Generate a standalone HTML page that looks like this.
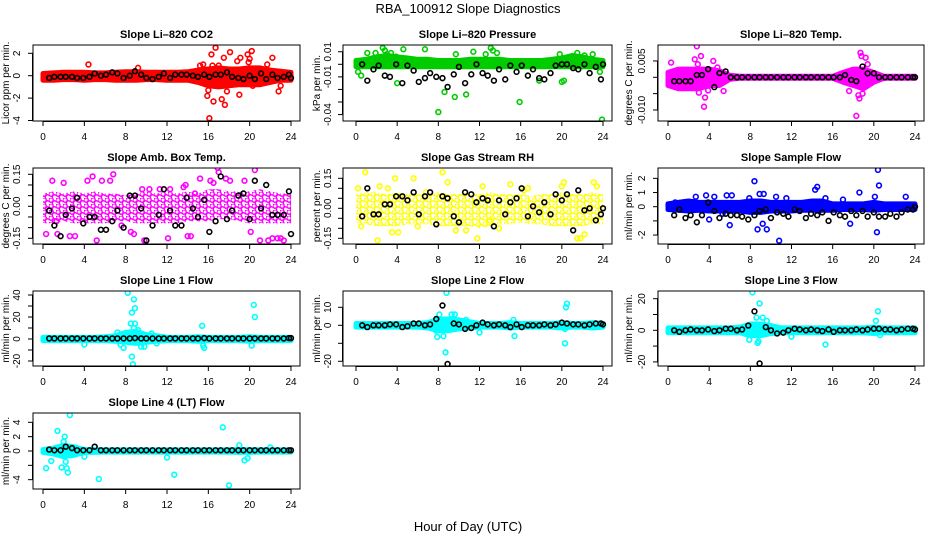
<!DOCTYPE html>
<html><head><meta charset="utf-8"><style>
html,body{margin:0;padding:0;background:#fff}
svg{display:block;font-family:"Liberation Sans",Arial,sans-serif}
</style></head><body>
<svg id="chart" width="936" height="540" viewBox="0 0 936 540">
<defs>
<pattern id="pat-mag" width="7" height="6" patternUnits="userSpaceOnUse"><circle cx="2" cy="2" r="2.2" fill="none" stroke="#ff00ff" stroke-width="1.5"/><circle cx="5.5" cy="5" r="2.2" fill="none" stroke="#ff00ff" stroke-width="1.5"/></pattern>
<pattern id="pat-yel" width="7" height="6" patternUnits="userSpaceOnUse"><circle cx="2" cy="2" r="2.2" fill="none" stroke="#ffff00" stroke-width="1.5"/><circle cx="5.5" cy="5" r="2.2" fill="none" stroke="#ffff00" stroke-width="1.5"/></pattern>
</defs>
<text x="468" y="13" text-anchor="middle" font-size="13">RBA_100912  Slope Diagnostics</text>
<text x="468" y="531" text-anchor="middle" font-size="13">Hour of Day (UTC)</text>
</svg>
<script>
// ---- shared data ----
const blackHours=[0.6,1.1,1.7,2.2,2.8,3.3,3.9,4.5,5.0,5.6,6.1,6.7,7.2,7.8,8.4,8.9,9.5,10.0,10.6,11.2,11.7,12.3,12.8,13.4,13.9,14.5,15.0,15.6,16.1,16.7,17.2,17.8,18.3,18.9,19.4,20.0,20.5,21.1,21.6,22.2,22.7,23.3,23.8,24.0];
const bandHours=[0,1,2,3,4,5,6,7,8,9,10,11,12,13,14,15,16,17,18,19,20,21,22,23,24];
const xTicks=[0,4,8,12,16,20,24];

// ---- panel 1: CO2 ----
const co2Black=[-0.2,-0.1,-0.1,-0.1,-0.1,-0.2,-0.2,-0.1,0.2,0.0,0.1,0.3,0.2,-0.2,0.0,0.4,0.1,-0.2,-0.3,-0.1,0.2,-0.2,0.1,0.1,0.1,0.0,-0.1,0.1,-0.1,0.1,0.1,0.3,-0.1,-0.2,-0.3,0.0,-0.3,0.2,-0.3,0.1,-0.2,-0.1,0.1,-0.2];
const co2BandHi=[0.2,0.25,0.3,0.3,0.3,0.25,0.25,0.3,0.35,0.35,0.3,0.3,0.3,0.3,0.35,0.5,0.6,0.7,0.6,0.6,0.7,0.7,0.5,0.4,0.3];
const co2BandLo=[-0.4,-0.4,-0.35,-0.35,-0.4,-0.35,-0.35,-0.4,-0.4,-0.4,-0.35,-0.35,-0.4,-0.4,-0.4,-0.6,-0.9,-1.0,-0.9,-0.8,-0.8,-0.8,-0.6,-0.4,-0.4];
const co2OutX=[4.4,9.2,15.2,15.5,16.0,16.1,16.3,16.5,16.7,17.0,17.3,17.5,17.6,17.8,18.1,18.8,19.0,19.1,19.8,20.0,20.2,20.3,21.7,22.2,22.8,23.0,15.9,16.4,17.9,19.9];
const co2OutY=[1.0,0.7,0.9,1.0,-1.3,-3.8,1.9,-2.3,2.5,0.9,-2.1,1.6,-2.6,-1.4,2.1,1.3,-1.7,1.6,1.9,1.5,2.2,-0.9,1.0,1.6,-1.4,-0.9,-1.8,0.9,-0.7,1.2];
const co2Ticks=[-4,-2,0,2];

// ---- panel 2: pressure ----
const presBlack=[0.0,-0.013,-0.004,-0.001,-0.009,-0.01,0.0,-0.015,-0.001,-0.005,-0.014,-0.011,-0.007,-0.01,-0.011,-0.018,-0.008,-0.002,-0.015,-0.008,0.0,-0.007,-0.009,-0.013,-0.004,-0.012,-0.001,-0.006,-0.001,-0.009,-0.004,-0.011,-0.012,-0.007,-0.001,0.0,0.0,-0.003,-0.004,0.0,-0.007,-0.002,-0.012,0.0];
const presBandHi=[0.003,0.004,0.006,0.007,0.006,0.005,0.004,0.004,0.003,0.003,0.003,0.004,0.004,0.004,0.004,0.003,0.003,0.003,0.003,0.004,0.005,0.007,0.006,0.004,0.003];
const presBandLo=[-0.002,-0.002,-0.002,-0.002,-0.002,-0.002,-0.002,-0.002,-0.002,-0.002,-0.002,-0.002,-0.002,-0.002,-0.002,-0.002,-0.002,-0.002,-0.002,-0.002,-0.002,-0.002,-0.002,-0.002,-0.002];
const presOutX=[0.2,0.5,1.1,2.6,2.8,3.0,3.4,4.0,4.6,6.7,8.0,8.6,9.6,10.7,9.7,11.4,12.6,13.1,13.3,13.7,15.9,17.8,20.0,20.2,19.8,21.5,22.2,23.0,23.7,23.9,3.9,1.9];
const presOutY=[-0.006,-0.009,0.009,0.013,0.011,0.008,0.009,-0.015,0.012,0.012,-0.038,-0.022,-0.026,-0.024,0.008,0.010,0.008,0.013,0.011,0.009,-0.030,-0.013,-0.014,-0.013,0.008,0.009,0.007,0.008,-0.006,-0.044,0.006,0.009];
const presTicks=[0.01,0,-0.01,-0.02,-0.03,-0.04];
const presLabels=["0.01","","-0.01","","","-0.04"];

// ---- panel 3: Li-820 temp ----
const tempBlack=[-0.0012,-0.0012,-0.0012,-0.0012,0.0007,0.0007,0.0025,-0.003,0.0013,0.0018,0,0,0,0,0,0,0,0,0,0,0,0,0,0,0,0,0,0,0,0,0.0007,-0.0008,-0.0012,0.0033,0.0012,0.0012,0,0,0,0,0,0,0,0];
const tempBandHi=[0.0015,0.0025,0.0025,0.0025,0.0025,0.002,0.0006,0.0003,0.0003,0.0003,0.0003,0.0003,0.0003,0.0003,0.0003,0.0003,0.0003,0.0015,0.0025,0.0025,0.0015,0.0003,0.0003,0.0003,0.0003];
const tempBandLo=[-0.0025,-0.0035,-0.0035,-0.0035,-0.0025,-0.0025,-0.0006,-0.0003,-0.0003,-0.0003,-0.0003,-0.0003,-0.0003,-0.0003,-0.0003,-0.0003,-0.0003,-0.0015,-0.0025,-0.0035,-0.0015,-0.0003,-0.0003,-0.0003,-0.0003];
const tempOutX=[0.3,2.6,2.8,3.0,3.2,3.5,3.6,2.9,4.4,5.4,18.3,18.5,18.6,18.7,18.8,18.9,17.6,19.2,19.4,3.9,4.8];
const tempOutY=[0.0045,0.0055,0.0095,-0.0047,0.0065,-0.009,-0.0062,0.004,0.005,-0.0042,-0.0118,-0.0055,-0.0065,0.0075,0.0065,-0.005,-0.0042,0.006,0.004,-0.004,0.003];
const tempTicks=[0.005,0,-0.005,-0.010];
const tempLabels=["0.005","","","-0.010"];

// ---- panel 4: amb box temp ----
const ambBlack=[-0.02,-0.09,-0.14,-0.04,-0.01,0.04,-0.08,-0.05,-0.05,-0.11,-0.11,-0.07,-0.02,-0.10,0.05,0.05,-0.01,-0.16,-0.09,-0.04,0.08,-0.02,-0.09,-0.09,0.04,-0.01,-0.05,0.03,-0.12,-0.07,0.14,-0.06,-0.02,0.05,0.06,-0.06,0.12,-0.01,0.10,-0.04,-0.04,-0.04,0.07,-0.13];
const ambBandHi=[0.06,0.07,0.06,0.07,0.06,0.07,0.06,0.06,0.05,0.06,0.07,0.06,0.07,0.06,0.07,0.06,0.08,0.08,0.07,0.07,0.07,0.08,0.07,0.06,0.06];
const ambBandLo=[-0.08,-0.08,-0.07,-0.08,-0.08,-0.08,-0.08,-0.07,-0.07,-0.08,-0.08,-0.08,-0.08,-0.08,-0.07,-0.07,-0.07,-0.06,-0.06,-0.07,-0.08,-0.08,-0.08,-0.08,-0.08];
const ambOutX=[0.3,0.9,1.4,2.0,2.6,3.1,4.3,4.8,5.2,5.5,5.7,6.5,6.8,8.8,9.6,9.8,10.3,11.3,12.1,12.3,13.6,14.0,14.3,14.7,15.2,16.5,16.9,17.0,17.7,18.1,19.5,20.1,20.5,20.7,21.0,21.8,22.2,22.7,23.0,23.3,1.3,7.6,8.5,13.8,16.2];
const ambOutY=[-0.13,0.12,-0.13,0.11,-0.14,-0.14,0.12,0.14,-0.16,-0.22,0.12,0.12,0.15,-0.13,0.08,-0.16,0.08,0.08,-0.15,0.08,0.09,-0.14,-0.14,0.06,0.13,0.11,0.18,0.16,0.13,0.12,0.12,-0.12,0.17,0.19,-0.16,-0.16,-0.15,-0.15,-0.15,-0.16,-0.07,-0.09,-0.12,0.1,0.12];
const ambTicks=[0.15,0.1,0.05,0,-0.05,-0.1,-0.15];
const ambLabels=["0.15","","","0.00","","","-0.15"];

// ---- panel 5: RH ----
const rhBlack=[-0.04,0.1,-0.03,-0.03,0.02,0.02,0.06,0.06,0.04,0.08,-0.03,0.06,0.08,-0.08,0.06,0.05,-0.04,-0.07,0.08,0.07,0.03,0.05,0.04,-0.09,0.04,-0.03,0.03,0.05,0.10,-0.04,0.01,-0.02,0.03,-0.03,0.07,0.04,0.07,-0.11,0.09,-0.01,0.0,-0.06,-0.03,0.0];
const rhBandHi=[0.07,0.08,0.08,0.07,0.08,0.07,0.07,0.07,0.08,0.07,0.07,0.08,0.07,0.08,0.07,0.07,0.07,0.06,0.07,0.07,0.08,0.07,0.07,0.08,0.07];
const rhBandLo=[-0.07,-0.08,-0.09,-0.09,-0.09,-0.08,-0.08,-0.08,-0.09,-0.09,-0.09,-0.09,-0.1,-0.09,-0.08,-0.08,-0.07,-0.08,-0.08,-0.09,-0.09,-0.09,-0.09,-0.08,-0.08];
const rhOutX=[0.2,0.9,2.1,2.3,3.1,3.8,4.1,5.6,6.8,8.4,8.9,10.7,11.8,12.3,13.0,15.0,16.3,16.7,20.2,20.0,21.5,21.8,22.2,23.1,23.4,0.5,3.5,6.0,9.7,13.9];
const rhOutY=[0.1,0.18,-0.16,0.11,0.1,0.15,-0.12,0.15,0.08,0.18,0.13,-0.11,-0.15,0.11,-0.06,0.12,0.09,0.1,0.13,0.11,-0.15,-0.15,-0.13,0.13,0.11,-0.09,-0.12,-0.09,-0.11,-0.1];
const rhTicks=[0.15,0.1,0.05,0,-0.05,-0.1,-0.15];
const rhLabels=["0.15","","","0.00","","","-0.15"];

// ---- panel 6: sample flow ----
const sfBlack=[-0.6,-0.2,-0.8,-0.6,-1.1,-0.6,0.3,-0.3,-0.8,-0.5,-0.6,-0.6,-0.7,-0.9,-0.6,-0.3,-0.2,-0.8,-0.4,-0.5,-0.7,-0.2,-0.3,-0.8,-0.5,-0.6,-0.4,-1.0,-0.4,-0.6,-0.7,-0.3,-0.6,-0.3,-0.7,-0.4,-0.7,-0.7,-0.5,-0.7,-0.4,-0.2,-0.2,0.0];
const sfBandHi=[0.2,0.3,0.4,0.3,0.3,0.3,0.3,0.3,0.4,0.4,0.3,0.3,0.3,0.3,0.4,0.4,0.2,0.2,0.2,0.2,0.3,0.2,0.2,0.2,0.2];
const sfBandLo=[-0.2,-0.25,-0.3,-0.25,-0.3,-0.3,-0.3,-0.3,-0.4,-0.4,-0.3,-0.3,-0.3,-0.25,-0.25,-0.25,-0.25,-0.2,-0.2,-0.2,-0.25,-0.2,-0.2,-0.2,-0.2];
const sfOutX=[0.7,2.7,3.7,4.0,4.5,5.3,6.0,6.2,8.4,8.9,9.3,9.2,8.7,9.6,10.5,10.8,11.5,14.3,14.5,15.3,17.0,17.7,18.6,20.1,20.3,20.4,20.5,23.1,5.7,7.9];
const sfOutY=[0.3,0.7,0.8,-0.9,0.7,-0.5,-1.3,0.8,1.8,0.9,0.9,-1.2,-1.6,-1.6,0.7,-2.4,0.6,1.2,1.4,0.6,0.5,-1.2,1.0,0.7,-1.8,2.6,1.5,0.7,0.8,0.6];
const sfTicks=[2,1,0,-1,-2];
const sfLabels=["2","1","0","","-2"];

// ---- panel 7: line 1 ----
const l1Black=[0.5,0.5,0.5,0.5,0.5,0.5,0.5,0.5,0.5,0.5,0.5,0.5,0.5,0.5,0.5,0.8,0.5,0.5,0.5,0.5,0.5,0.5,0.5,0.5,0.5,0.5,0.5,0.8,0.5,0.5,0.5,0.5,0.5,0.5,0.5,0.5,0.5,0.5,0.5,0.5,0.5,0.5,0.8,0.8];
const l1BandHi=[1.5,1.5,1.5,1.5,1.5,1.5,2,3,6,7,4,3,1.5,1.5,1.5,2,1.5,1.5,1.5,1.5,2,1.5,1.5,1.5,1.5];
const l1BandLo=[-1.5,-1.5,-1.5,-1.5,-1.5,-1.5,-1.5,-2,-3,-4,-3,-2,-1.5,-1.5,-1.5,-2,-1.5,-1.5,-1.5,-1.5,-2,-1.5,-1.5,-1.5,-1.5];
const l1OutX=[8.2,8.6,8.8,8.9,8.7,8.5,8.6,8.9,9.2,8.8,9.5,7.8,7.5,4.0,15.4,15.6,15.5,20.4,20.5,20.2,10.5,11.0,7.2,9.8];
const l1OutY=[42,-16,36,28,-23,14,24,14,8,10,-7,-8,-5,-5,12,-8,-6,31,20,-6,5,-4,6,-7];
const l1Ticks=[40,30,20,10,0,-10,-20];
const l1Labels=["40","","20","","0","","-20"];

// ---- panel 8: line 2 ----
const l2Black=[0,-1,0,0,0,0.5,0.5,-1,-0.5,1,1,0,0.5,3.5,11,-21.5,1,0.5,-2,-1.5,0,1.5,0.5,0,0.5,0,-1,0.5,-1,0,0,0,0.5,0,0.5,1.5,1,0.5,0.5,0,0.5,1,1,0.5];
const l2BandHi=[1,1,1,1,1,1,1,1.5,3.5,3.5,3,2,1,1,1,1.5,1,1,1,1,1.5,1,1,1.5,1];
const l2BandLo=[-1,-1,-1,-1,-1,-1,-1,-1.5,-3,-3,-2,-1.5,-1,-1,-1,-1.5,-1,-1,-1,-1,-1.5,-1,-1,-1.5,-1];
const l2OutX=[8.8,8.7,8.5,9.3,9.6,8.1,12.0,15.3,15.4,20.3,20.4,20.5,20.3,7.8,10.7,7.9];
const l2OutY=[18,-15,-6,6,6,6,-4,3,-6,-10,10,12,-2,-3,3,-6.5];
const l2Ticks=[10,0,-10,-20];
const l2Labels=["10","0","","-20"];

// ---- panel 9: line 3 ----
const l3Black=[0,-1,0,0.5,0,0,0.5,-0.5,0,1,1,0,0.5,3,12,-21,2,0,-2,-1.5,0,1,0.5,0,0.5,0,-0.5,0.5,-1,0,0,0,0.5,0,0.5,1,1,0.5,0.5,0,0.5,1,1,0.5];
const l3BandHi=[1.5,1.5,1.5,1.5,1.5,1.5,1.5,2,4,4,3,1.5,1.5,1.5,1.5,1.5,1.5,1.5,1.5,1.5,2,1.5,1.5,1.5,1.5];
const l3BandLo=[-1.5,-1.5,-1.5,-1.5,-1.5,-1.5,-1.5,-1.5,-3.5,-3.5,-2,-1.5,-1.5,-1.5,-1.5,-1.5,-1.5,-1.5,-1.5,-1.5,-2,-1.5,-1.5,-1.5,-1.5];
const l3OutX=[8.2,8.9,8.6,8.8,9.2,9.6,8.7,12.0,15.3,20.4,20.2,20.6,7.9];
const l3OutY=[24,17,8,-7,8,6,-8,-4,-9,12,6,-3,-6];
const l3Ticks=[20,10,0,-10,-20];
const l3Labels=["20","","0","","-20"];

// ---- panel 10: line 4 ----
const l4Black=[0.2,0.1,0.1,0.6,0.4,0.1,0.1,0.1,0.6,0.1,0.1,0.1,0.1,0.1,0.1,0.1,0.1,0.1,0.1,0.1,0.1,0.1,0.1,0.1,0.1,0.1,0.1,0.1,0.1,0.1,0.1,0.1,0.1,0.1,0.1,0.1,0.1,0.1,0.1,0.1,0.1,0.1,0.1,0.1];
const l4BandHi=[0.2,0.4,0.8,0.6,0.2,0.2,0.15,0.15,0.15,0.15,0.15,0.15,0.15,0.15,0.15,0.15,0.15,0.15,0.15,0.2,0.2,0.15,0.15,0.15,0.15];
const l4BandLo=[-0.2,-0.4,-0.8,-0.6,-0.2,-0.2,-0.15,-0.15,-0.15,-0.15,-0.15,-0.15,-0.15,-0.15,-0.15,-0.15,-0.15,-0.15,-0.15,-0.2,-0.2,-0.15,-0.15,-0.15,-0.15];
const l4OutX=[0.3,0.8,1.4,1.8,2.1,2.2,2.3,2.4,2.6,4.0,5.4,12.0,12.7,17.4,18.0,19.0,19.5,19.8,22.0,2.0];
const l4OutY=[-2.4,-1.4,2.8,-2.3,2.0,-1.5,-2.4,-3.0,5.0,-0.8,-3.9,-0.9,-3.3,3.3,-4.8,0.8,-1.3,-1.0,0.5,1.3];
const l4Ticks=[4,2,0,-2,-4];
const l4Labels=["4","2","0","","-4"];

// ---- layout ----
const NS="http://www.w3.org/2000/svg";
const svg=document.getElementById('chart');
const cols=[{l:33,r:300,x0:43,x24:291,yl:9,tl:20},{l:343,r:612,x0:356,x24:603,yl:320,tl:331},{l:658,r:924,x0:668,x24:915,yl:632,tl:645}];
const rows=[{t:45,b:121},{t:168,b:244},{t:291,b:366},{t:413,b:489}];
function mk(tag,attrs,parent){const e=document.createElementNS(NS,tag);for(const k in attrs)e.setAttribute(k,attrs[k]);(parent||svg).appendChild(e);return e;}

function panel(o){
  const c=cols[o.col],r=rows[o.row];
  const g=mk('g',{});
  
  
  const xs=h=>c.x0+(c.x24-c.x0)*h/24;
  const ys=v=>o.y0-o.ppu*v;
  const clipId='clip-'+o.name;
  const cp=mk('clipPath',{id:clipId},g);mk('rect',{x:c.l,y:r.t,width:c.r-c.l,height:r.b-r.t},cp);
  const pg=mk('g',{'clip-path':'url(#'+clipId+')'},g);
  // band
  let d='';
  bandHours.forEach((h,i)=>{d+=(i?'L':'M')+xs(h).toFixed(1)+','+ys(o.hi[i]).toFixed(1);});
  for(let i=bandHours.length-1;i>=0;i--)d+='L'+xs(bandHours[i]).toFixed(1)+','+ys(o.lo[i]).toFixed(1);
  const band=o.pattern
    ? mk('path',{d:d+'Z',fill:'url(#'+o.pattern+')',stroke:'none'},pg)
    : mk('path',{d:d+'Z',fill:o.color,stroke:o.color,'stroke-width':5,'stroke-linejoin':'round'},pg);
  
  
  // outliers
  o.ox.forEach((h,i)=>{
    const p=mk('circle',{cx:xs(h),cy:ys(o.oy[i]),r:2.4,fill:'none',stroke:o.color,'stroke-width':1.6},pg);
    
    
  });
  // black
  blackHours.forEach((h,i)=>{
    const p=mk('circle',{cx:xs(h),cy:ys(o.black[i]),r:2.4,fill:'none',stroke:'#000','stroke-width':1.6},pg);
    
    
  });
  // box
  const box=mk('rect',{x:c.l,y:r.t,width:c.r-c.l,height:r.b-r.t,fill:'none',stroke:'#000','stroke-width':1},g);
  
  
  // x axis
  mk('line',{x1:xs(0),x2:xs(24),y1:r.b+0.5,y2:r.b+0.5,stroke:'#000'},g);
  xTicks.forEach(t=>{
    mk('line',{x1:xs(t),x2:xs(t),y1:r.b,y2:r.b+5,stroke:'#000'},g);
    const tx=mk('text',{x:xs(t),y:r.b+19,'text-anchor':'middle','font-size':10},g);tx.textContent=t;
    
    
  });
  // y axis
  const yt=o.ticks;
  mk('line',{x1:c.l-0.5,x2:c.l-0.5,y1:ys(yt[0]),y2:ys(yt[yt.length-1]),stroke:'#000'},g);
  yt.forEach((t,i)=>{
    const y=ys(t);
    mk('line',{x1:c.l-5,x2:c.l,y1:y,y2:y,stroke:'#000'},g);
    const lab=o.labels?o.labels[i]:String(t);
    if(lab){
      const tx=mk('text',{x:c.tl,y:y,'text-anchor':'middle','font-size':10,transform:'rotate(-90 '+c.tl+' '+y+')'},g);tx.textContent=lab;
      
      
    }
  });
  const my=(r.t+r.b)/2;
  const yl=mk('text',{x:c.yl,y:my,'text-anchor':'middle','font-size':10,transform:'rotate(-90 '+c.yl+' '+my+')'},g);yl.textContent=o.ylab;
  
  
  const ti=mk('text',{x:(c.l+c.r)/2,y:r.t-7,'text-anchor':'middle','font-size':11,'font-weight':'bold'},g);ti.textContent=o.title;
  
  
}

panel({name:'co2',col:0,row:0,y0:75.7,ppu:11.2,color:'#ff0000',black:co2Black,hi:co2BandHi,lo:co2BandLo,ox:co2OutX,oy:co2OutY,ticks:co2Ticks,title:'Slope Li\u2013820 CO2',ylab:'Licor ppm per min.'});
panel({name:'pressure',col:1,row:0,y0:64.3,ppu:1257,color:'#00cc00',black:presBlack,hi:presBandHi,lo:presBandLo,ox:presOutX,oy:presOutY,ticks:presTicks,labels:presLabels,title:'Slope Li\u2013820 Pressure',ylab:'kPa per min.'});
panel({name:'li820-temp',col:2,row:0,y0:77.3,ppu:3267,color:'#ff00ff',black:tempBlack,hi:tempBandHi,lo:tempBandLo,ox:tempOutX,oy:tempOutY,ticks:tempTicks,labels:tempLabels,title:'Slope Li\u2013820 Temp.',ylab:'degrees C per min.'});
panel({name:'amb-box-temp',col:0,row:1,y0:206.3,ppu:213.3,color:'#ff00ff',pattern:'pat-mag',black:ambBlack,hi:ambBandHi,lo:ambBandLo,ox:ambOutX,oy:ambOutY,ticks:ambTicks,labels:ambLabels,title:'Slope Amb. Box Temp.',ylab:'degrees C per min.'});
panel({name:'gas-stream-rh',col:1,row:1,y0:208.3,ppu:200,color:'#ffff00',pattern:'pat-yel',black:rhBlack,hi:rhBandHi,lo:rhBandLo,ox:rhOutX,oy:rhOutY,ticks:rhTicks,labels:rhLabels,title:'Slope Gas Stream RH',ylab:'percent per min.'});
panel({name:'sample-flow',col:2,row:1,y0:206.7,ppu:14.17,color:'#0000ff',black:sfBlack,hi:sfBandHi,lo:sfBandLo,ox:sfOutX,oy:sfOutY,ticks:sfTicks,labels:sfLabels,title:'Slope Sample Flow',ylab:'ml/min per min.'});
panel({name:'line1-flow',col:0,row:2,y0:339,ppu:1.1,color:'#00ffff',black:l1Black,hi:l1BandHi,lo:l1BandLo,ox:l1OutX,oy:l1OutY,ticks:l1Ticks,labels:l1Labels,title:'Slope Line 1 Flow',ylab:'ml/min per min.'});
panel({name:'line2-flow',col:1,row:2,y0:325.3,ppu:1.8,color:'#00ffff',black:l2Black,hi:l2BandHi,lo:l2BandLo,ox:l2OutX,oy:l2OutY,ticks:l2Ticks,labels:l2Labels,title:'Slope Line 2 Flow',ylab:'ml/min per min.'});
panel({name:'line3-flow',col:2,row:2,y0:330.3,ppu:1.58,color:'#00ffff',black:l3Black,hi:l3BandHi,lo:l3BandLo,ox:l3OutX,oy:l3OutY,ticks:l3Ticks,labels:l3Labels,title:'Slope Line 3 Flow',ylab:'ml/min per min.'});
panel({name:'line4-flow',col:0,row:3,y0:451,ppu:7.17,color:'#00ffff',black:l4Black,hi:l4BandHi,lo:l4BandLo,ox:l4OutX,oy:l4OutY,ticks:l4Ticks,labels:l4Labels,title:'Slope Line 4 (LT) Flow',ylab:'ml/min per min.'});
</script>
</body></html>
